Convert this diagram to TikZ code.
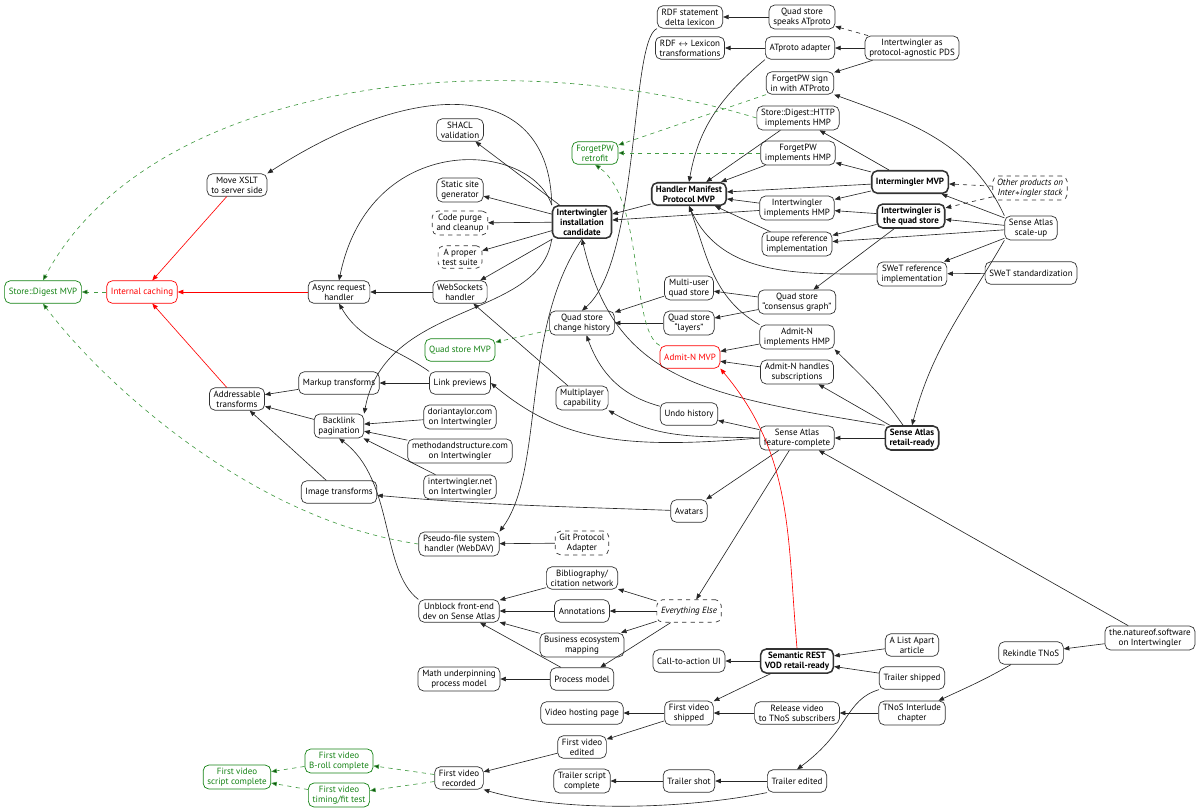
\documentclass[tikz,border=0pt]{standalone}
\usepackage{fontspec}
\setmainfont{PT Sans}
\usetikzlibrary{arrows.meta}
\definecolor{goalgreen}{RGB}{20,130,20}
\definecolor{goalred}{RGB}{255,0,0}
\tikzset{
  box/.style={draw=black!80, rounded corners=4pt, align=center, inner xsep=3pt, inner ysep=2pt,
    minimum height=16pt, font=\fontsize{6.4}{7.2}\selectfont, line width=0.5pt},
  keybox/.style={box, line width=1.1pt, font=\fontsize{6.4}{7.2}\selectfont\bfseries},
  dashbox/.style={box, dashed},
  greenbox/.style={box, draw=goalgreen, text=goalgreen},
  redbox/.style={box, draw=goalred, text=goalred},
  arr/.style={-{Triangle[length=4pt,width=3.2pt]}, line width=0.45pt, draw=black!85},
  darr/.style={arr, dashed},
  garr/.style={arr, dashed, draw=goalgreen!80, -{Triangle[length=4pt,width=3.2pt,fill=goalgreen!60!black]}},
  rarr/.style={arr, draw=goalred}
}
\begin{document}
\begin{tikzpicture}[x=0.025cm,y=-0.025cm]
  \useasboundingbox (0,0) rectangle (1200,810);
  % nodes
  \node[box] (rdfdelta) at (690,17) {RDF statement\\delta lexicon};
  \node[box] (quadat) at (802,17) {Quad store\\speaks ATproto};
  \node[box] (rdflex) at (690,48) {RDF $\leftrightarrow$ Lexicon\\transformations};
  \node[box] (atadapt) at (800,48) {ATproto adapter};
  \node[box] (pds) at (912,48) {Intertwingler as\\protocol-agnostic PDS};
  \node[box] (fpwat) at (800,83) {ForgetPW sign\\in with ATProto};
  \node[box] (sdhttp) at (798,118) {Store::Digest::HTTP\\implements HMP};
  \node[box] (fpwhmp) at (798,153) {ForgetPW\\implements HMP};
  \node[keybox] (intermingler) at (910,182) {Intermingler MVP};
  \node[dashbox, font=\fontsize{6.4}{7.2}\selectfont\itshape] (others) at (1030,188) {Other products on\\Inter$\ast$ingler stack};
  \node[box] (ithmp) at (797,208) {Intertwingler\\implements HMP};
  \node[keybox] (itquad) at (911,216) {Intertwingler is\\the quad store};
  \node[box] (loupe) at (797,244) {Loupe reference\\implementation};
  \node[box] (scaleup) at (1031,228) {Sense Atlas\\scale-up};
  \node[box] (swetref) at (912,274) {SWeT reference\\implementation};
  \node[box] (swetstd) at (1031,273) {SWeT standardization};
  \node[keybox] (hmp) at (689,194) {Handler Manifest\\Protocol MVP};
  \node[greenbox] (fpwretro) at (595,153) {ForgetPW\\retrofit};
  \node[keybox] (itcand) at (582,222) {Intertwingler\\installation\\candidate};
  \node[box] (shacl) at (460,130) {SHACL\\validation};
  \node[box] (ssg) at (460,190) {Static site\\generator};
  \node[dashbox] (purge) at (460,223) {Code purge\\and cleanup};
  \node[dashbox] (tests) at (460,257) {A proper\\test suite};
  \node[box] (xslt) at (237,185) {Move XSLT\\to server side};
  \node[box] (async) at (339,292) {Async request\\handler};
  \node[box] (websock) at (460,292) {WebSockets\\handler};
  \node[redbox] (caching) at (142,292) {Internal caching};
  \node[greenbox] (sdmvp) at (43,292) {Store::Digest MVP};
  \node[box] (multiuser) at (689,288) {Multi-user\\quad store};
  \node[box] (consensus) at (797,302) {Quad store\\“consensus graph”};
  \node[box] (history) at (582,323) {Quad store\\change history};
  \node[box] (layers) at (689,323) {Quad store\\“layers”};
  \node[greenbox] (quadmvp) at (460,350) {Quad store MVP};
  \node[box] (admithmp) at (797,337) {Admit-N\\implements HMP};
  \node[redbox] (admitmvp) at (690,357) {Admit-N MVP};
  \node[box] (admitsub) at (797,372) {Admit-N handles\\subscriptions};
  \node[box] (markup) at (339,383) {Markup transforms};
  \node[box] (linkprev) at (460,383) {Link previews};
  \node[box] (addressable) at (237,399) {Addressable\\transforms};
  \node[box] (multiplayer) at (582,398) {Multiplayer\\capability};
  \node[box] (undo) at (689,414) {Undo history};
  \node[box] (backlink) at (339,426) {Backlink\\pagination};
  \node[box] (dorian) at (460,417) {doriantaylor.com\\on Intertwingler};
  \node[box] (mands) at (460,451) {methodandstructure.com\\on Intertwingler};
  \node[box] (itnet) at (460,487) {intertwingler.net\\on Intertwingler};
  \node[box] (featcomp) at (797,438) {Sense Atlas\\feature-complete};
  \node[keybox] (retail) at (912,438) {Sense Atlas\\retail-ready};
  \node[box] (image) at (339,492) {Image transforms};
  \node[box] (avatars) at (689,511) {Avatars};
  \node[box] (webdav) at (459,544) {Pseudo-file system\\handler (WebDAV)};
  \node[dashbox] (git) at (582,543) {Git Protocol\\Adapter};
  \node[box] (biblio) at (582,578) {Bibliography/\\citation network};
  \node[box] (unblock) at (459,611) {Unblock front-end\\dev on Sense Atlas};
  \node[box] (annot) at (582,611) {Annotations};
  \node[dashbox, font=\fontsize{6.4}{7.2}\selectfont\itshape] (everything) at (689,611) {Everything Else};
  \node[box] (bizeco) at (582,645) {Business ecosystem\\mapping};
  \node[box] (cta) at (689,661) {Call-to-action UI};
  \node[keybox] (vod) at (797,661) {Semantic REST\\VOD retail-ready};
  \node[box] (alist) at (912,645) {A List Apart\\article};
  \node[box] (rekindle) at (1031,653) {Rekindle TNoS};
  \node[box] (tnos) at (1150,638) {the.natureof.software\\on Intertwingler};
  \node[box] (process) at (582,679) {Process model};
  \node[box] (math) at (459,679) {Math underpinning\\process model};
  \node[box] (trailership) at (912,678) {Trailer shipped};
  \node[box] (hosting) at (582,713) {Video hosting page};
  \node[box] (fvshipped) at (689,713) {First video\\shipped};
  \node[box] (release) at (797,713) {Release video\\to TNoS subscribers};
  \node[box] (interlude) at (912,713) {TNoS Interlude\\chapter};
  \node[box] (edited) at (582,747) {First video\\edited};
  \node[greenbox] (broll) at (339,761) {First video\\B-roll complete};
  \node[greenbox] (script) at (237,777) {First video\\script complete};
  \node[box] (recorded) at (459,778) {First video\\recorded};
  \node[greenbox] (timing) at (339,795) {First video\\timing/fit test};
  \node[box] (tscript) at (582,781) {Trailer script\\complete};
  \node[box] (tshot) at (689,781) {Trailer shot};
  \node[box] (tedited) at (797,781) {Trailer edited};
  % connectors
  \draw[arr] (quadat) -- (rdfdelta);
  \draw[darr] (pds) -- (quadat);
  \draw[arr] (pds) -- (atadapt);
  \draw[arr] (pds) -- (fpwat);
  \draw[arr] (atadapt) -- (rdflex);
  \draw[arr] (atadapt.south west) to[out=-140,in=80] (hmp.north);
  \draw[arr] (rdfdelta.south west) .. controls (630,40) and (640,260) .. (history.north);
  \draw[garr] (fpwat) -- (fpwretro);
  \draw[arr] (scaleup.north west) to[out=115,in=-20] (fpwat.south east);
  \draw[arr] (sdhttp) -- (hmp);
  \draw[arr] (intermingler) -- (sdhttp);
  \draw[arr] (intermingler) -- (fpwhmp);
  \draw[arr] (fpwhmp) -- (hmp);
  \draw[garr] (fpwhmp) -- (fpwretro);
  \draw[arr] (intermingler) -- (hmp);
  \draw[arr] (intermingler) -- (ithmp);
  \draw[darr] (others) -- (intermingler);
  \draw[darr] (others) -- (itquad);
  \draw[arr] (ithmp) -- (hmp);
  \draw[arr] (ithmp) -- (itcand);
  \draw[arr] (hmp) -- (itcand);
  \draw[arr] (itquad) -- (ithmp);
  \draw[arr] (itquad) -- (loupe);
  \draw[arr] (loupe) -- (hmp);
  \draw[arr] (scaleup) -- (intermingler);
  \draw[arr] (scaleup) -- (itquad);
  \draw[arr] (scaleup) -- (loupe);
  \draw[arr] (scaleup) -- (swetref);
  \draw[arr] (scaleup.south west) to[out=-120,in=75] (retail.north);
  \draw[arr] (swetstd) -- (swetref);
  \draw[arr] (swetref.west) to[out=180,in=-65] (hmp.south);
  \draw[arr] (admithmp.north west) to[out=150,in=-70] (hmp.south);
  \draw[arr] (itquad) -- (consensus);
  \draw[arr] (consensus) -- (multiuser);
  \draw[arr] (consensus) -- (layers);
  \draw[arr] (multiuser) -- (history);
  \draw[arr] (layers) -- (history);
  \draw[garr] (history) -- (quadmvp);
  \draw[garr] (admitmvp.north west) .. controls (630,330) and (645,200) .. (fpwretro.south);
  \draw[arr] (admithmp) -- (admitmvp);
  \draw[arr] (admitsub) -- (admitmvp);
  \draw[arr] (retail) to[out=125,in=-45] (admithmp.south east);
  \draw[arr] (retail) -- (admitsub);
  \draw[arr] (retail) -- (featcomp);
  \draw[arr] (retail.north west) .. controls (700,395) and (615,380) .. (itcand.south);
  \draw[arr] (featcomp) -- (undo);
  \draw[arr] (featcomp.west) to[out=178,in=-30] (multiplayer.south east);
  \draw[arr] (featcomp.west) .. controls (620,450) and (560,440) .. (linkprev.east);
  \draw[arr] (featcomp) -- (avatars);
  \draw[arr] (featcomp) -- (everything);
  \draw[arr] (tnos) -- (featcomp);
  \draw[arr] (tnos) -- (rekindle);
  \draw[arr] (undo) to[out=165,in=-70] (history);
  \draw[arr] (multiplayer) -- (websock);
  \draw[arr] (itcand) -- (shacl);
  \draw[arr] (itcand) -- (ssg);
  \draw[arr] (itcand) -- (purge);
  \draw[arr] (itcand) -- (tests);
  \draw[arr] (itcand) -- (websock);
  \draw[arr] (itcand.north west) .. controls (550,80) and (420,75) .. (xslt.north east);
  \draw[arr] (itcand.north west) .. controls (530,140) and (370,130) .. (async.north);
  \draw[arr] (itcand.south west) .. controls (540,320) and (385,300) .. (backlink.north east);
  \draw[arr] (itcand.south) .. controls (520,330) and (545,470) .. (webdav.north east);
  \draw[garr] (sdhttp.west) .. controls (500,40) and (150,80) .. (sdmvp.north);
  \draw[garr] (webdav.west) .. controls (250,520) and (100,380) .. (sdmvp.south);
  \draw[garr] (caching) -- (sdmvp);
  \draw[rarr] (async) -- (caching);
  \draw[rarr] (xslt) -- (caching);
  \draw[rarr] (addressable) -- (caching);
  \draw[arr] (websock) -- (async);
  \draw[arr] (linkprev.north west) to[out=145,in=-60] (async.south);
  \draw[arr] (linkprev) -- (markup);
  \draw[arr] (markup) -- (addressable);
  \draw[arr] (backlink) -- (addressable);
  \draw[arr] (image) -- (addressable);
  \draw[arr] (dorian) -- (backlink);
  \draw[arr] (mands) -- (backlink);
  \draw[arr] (itnet) -- (backlink);
  \draw[arr] (unblock.north west) .. controls (380,570) and (395,480) .. (backlink.south);
  \draw[arr] (avatars) to[out=178,in=-5] (image);
  \draw[arr] (git) -- (webdav);
  \draw[arr] (everything) -- (biblio);
  \draw[arr] (everything) -- (annot);
  \draw[arr] (everything) -- (bizeco);
  \draw[arr] (everything) -- (process);
  \draw[arr] (biblio) -- (unblock);
  \draw[arr] (annot) -- (unblock);
  \draw[arr] (bizeco) -- (unblock);
  \draw[arr] (process) -- (unblock);
  \draw[arr] (process) -- (math);
  \draw[arr] (vod) -- (cta);
  \draw[rarr] (vod.north) to[out=95,in=-50] (admitmvp.south east);
  \draw[arr] (alist) -- (vod);
  \draw[arr] (trailership) -- (vod);
  \draw[arr] (vod) -- (fvshipped);
  \draw[arr] (trailership.south west) .. controls (845,700) and (850,730) .. (tedited.north);
  \draw[arr] (release) -- (fvshipped);
  \draw[arr] (interlude) -- (release);
  \draw[arr] (rekindle) to[out=-150,in=25] (interlude);
  \draw[arr] (fvshipped) -- (hosting);
  \draw[arr] (fvshipped) -- (edited);
  \draw[arr] (edited) -- (recorded);
  \draw[garr] (recorded) -- (broll);
  \draw[garr] (recorded) -- (timing);
  \draw[garr] (broll) -- (script);
  \draw[garr] (timing) -- (script);
  \draw[arr] (tedited) -- (tshot);
  \draw[arr] (tshot) -- (tscript);
  \draw[arr] (tedited.south west) .. controls (680,810) and (560,812) .. (recorded.south east);
\end{tikzpicture}
\end{document}
